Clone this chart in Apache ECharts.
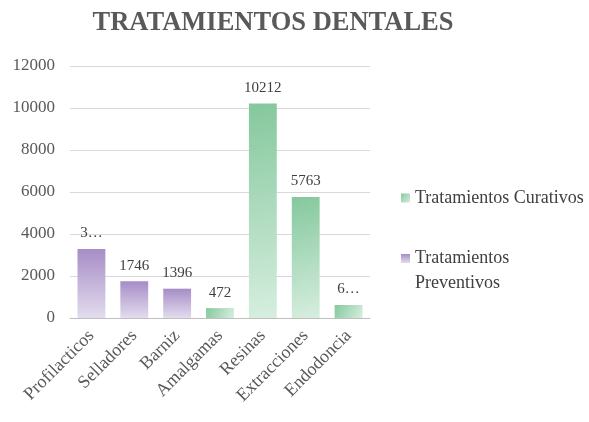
<!DOCTYPE html>
<html>
<head>
<meta charset="utf-8">
<script src="https://cdn.jsdelivr.net/npm/echarts@6/dist/echarts.min.js"></script>
<style>html,body{margin:0;padding:0;background:#fff}#c{width:589px;height:422px}</style>
</head>
<body>
<div id="c"></div>
<script>
const categories = ["Profilacticos", "Selladores", "Barniz", "Amalgamas", "Resinas", "Extracciones", "Endodoncia"];
const curativos = [null, null, null, 472, 10212, 5763, 620];
const preventivos = [3285, 1746, 1396, null, null, null, null];
const shownLabels = ["3…", "1746", "1396", "472", "10212", "5763", "6…"];
const yTicks = [0, 2000, 4000, 6000, 8000, 10000, 12000];

const serif = '"Liberation Serif", "Times New Roman", serif';
const chart = echarts.init(document.getElementById('c'), null, {renderer: 'canvas'});
const labelCfg = {
  show: true, position: 'top', fontFamily: serif, fontSize: 15, color: '#404040', distance: 8,
  formatter: p => shownLabels[p.dataIndex]
};
chart.setOption({
  animation: false,
  title: {
    text: 'TRATAMIENTOS DENTALES', left: 268, top: 5, textAlign: 'center',
    textStyle: {fontFamily: serif, fontWeight: 'bold', fontSize: 26.5, color: '#595959'}
  },
  legend: [{
    data: ['Tratamientos Curativos'], orient: 'vertical', left: 396, top: 184,
    itemWidth: 9, itemHeight: 9, icon: 'rect',
    textStyle: {fontFamily: serif, fontSize: 18, color: '#404040'}
  }, {
    data: ['Tratamientos Preventivos'], orient: 'vertical', left: 396, top: 216,
    itemWidth: 9, itemHeight: 9, icon: 'rect',
    formatter: n => '\n' + n.replace(' ', '\n'),
    textStyle: {fontFamily: serif, fontSize: 18, color: '#404040', lineHeight: 25}
  }],
  grid: {left: 70, right: 219, top: 66, bottom: 104},
  xAxis: {
    type: 'category', data: categories,
    axisLine: {lineStyle: {color: '#bfbfbf'}}, axisTick: {show: false},
    axisLabel: {rotate: 45, fontFamily: serif, fontSize: 18, color: '#595959', interval: 0, margin: 15}
  },
  yAxis: {
    type: 'value', min: yTicks[0], max: yTicks[yTicks.length - 1], interval: 2000,
    axisLine: {show: false}, axisTick: {show: false},
    axisLabel: {fontFamily: serif, fontSize: 17, color: '#595959', margin: 15, formatter: v => String(v)},
    splitLine: {lineStyle: {color: '#d9d9d9'}}
  },
  series: [{
    name: 'Tratamientos Curativos', type: 'bar', stack: 'a', data: curativos, barWidth: '65%',
    itemStyle: {color: new echarts.graphic.LinearGradient(0, 0, 1, 1, [
      {offset: 0, color: '#85c89d'}, {offset: 1, color: '#d6eedf'}])},
    label: labelCfg
  }, {
    name: 'Tratamientos Preventivos', type: 'bar', stack: 'a', data: preventivos, barWidth: '65%',
    itemStyle: {color: new echarts.graphic.LinearGradient(0, 0, 0, 1, [
      {offset: 0, color: '#a68dc6'}, {offset: 1, color: '#e3dcee'}])},
    label: labelCfg
  }]
});
</script>
</body>
</html>
